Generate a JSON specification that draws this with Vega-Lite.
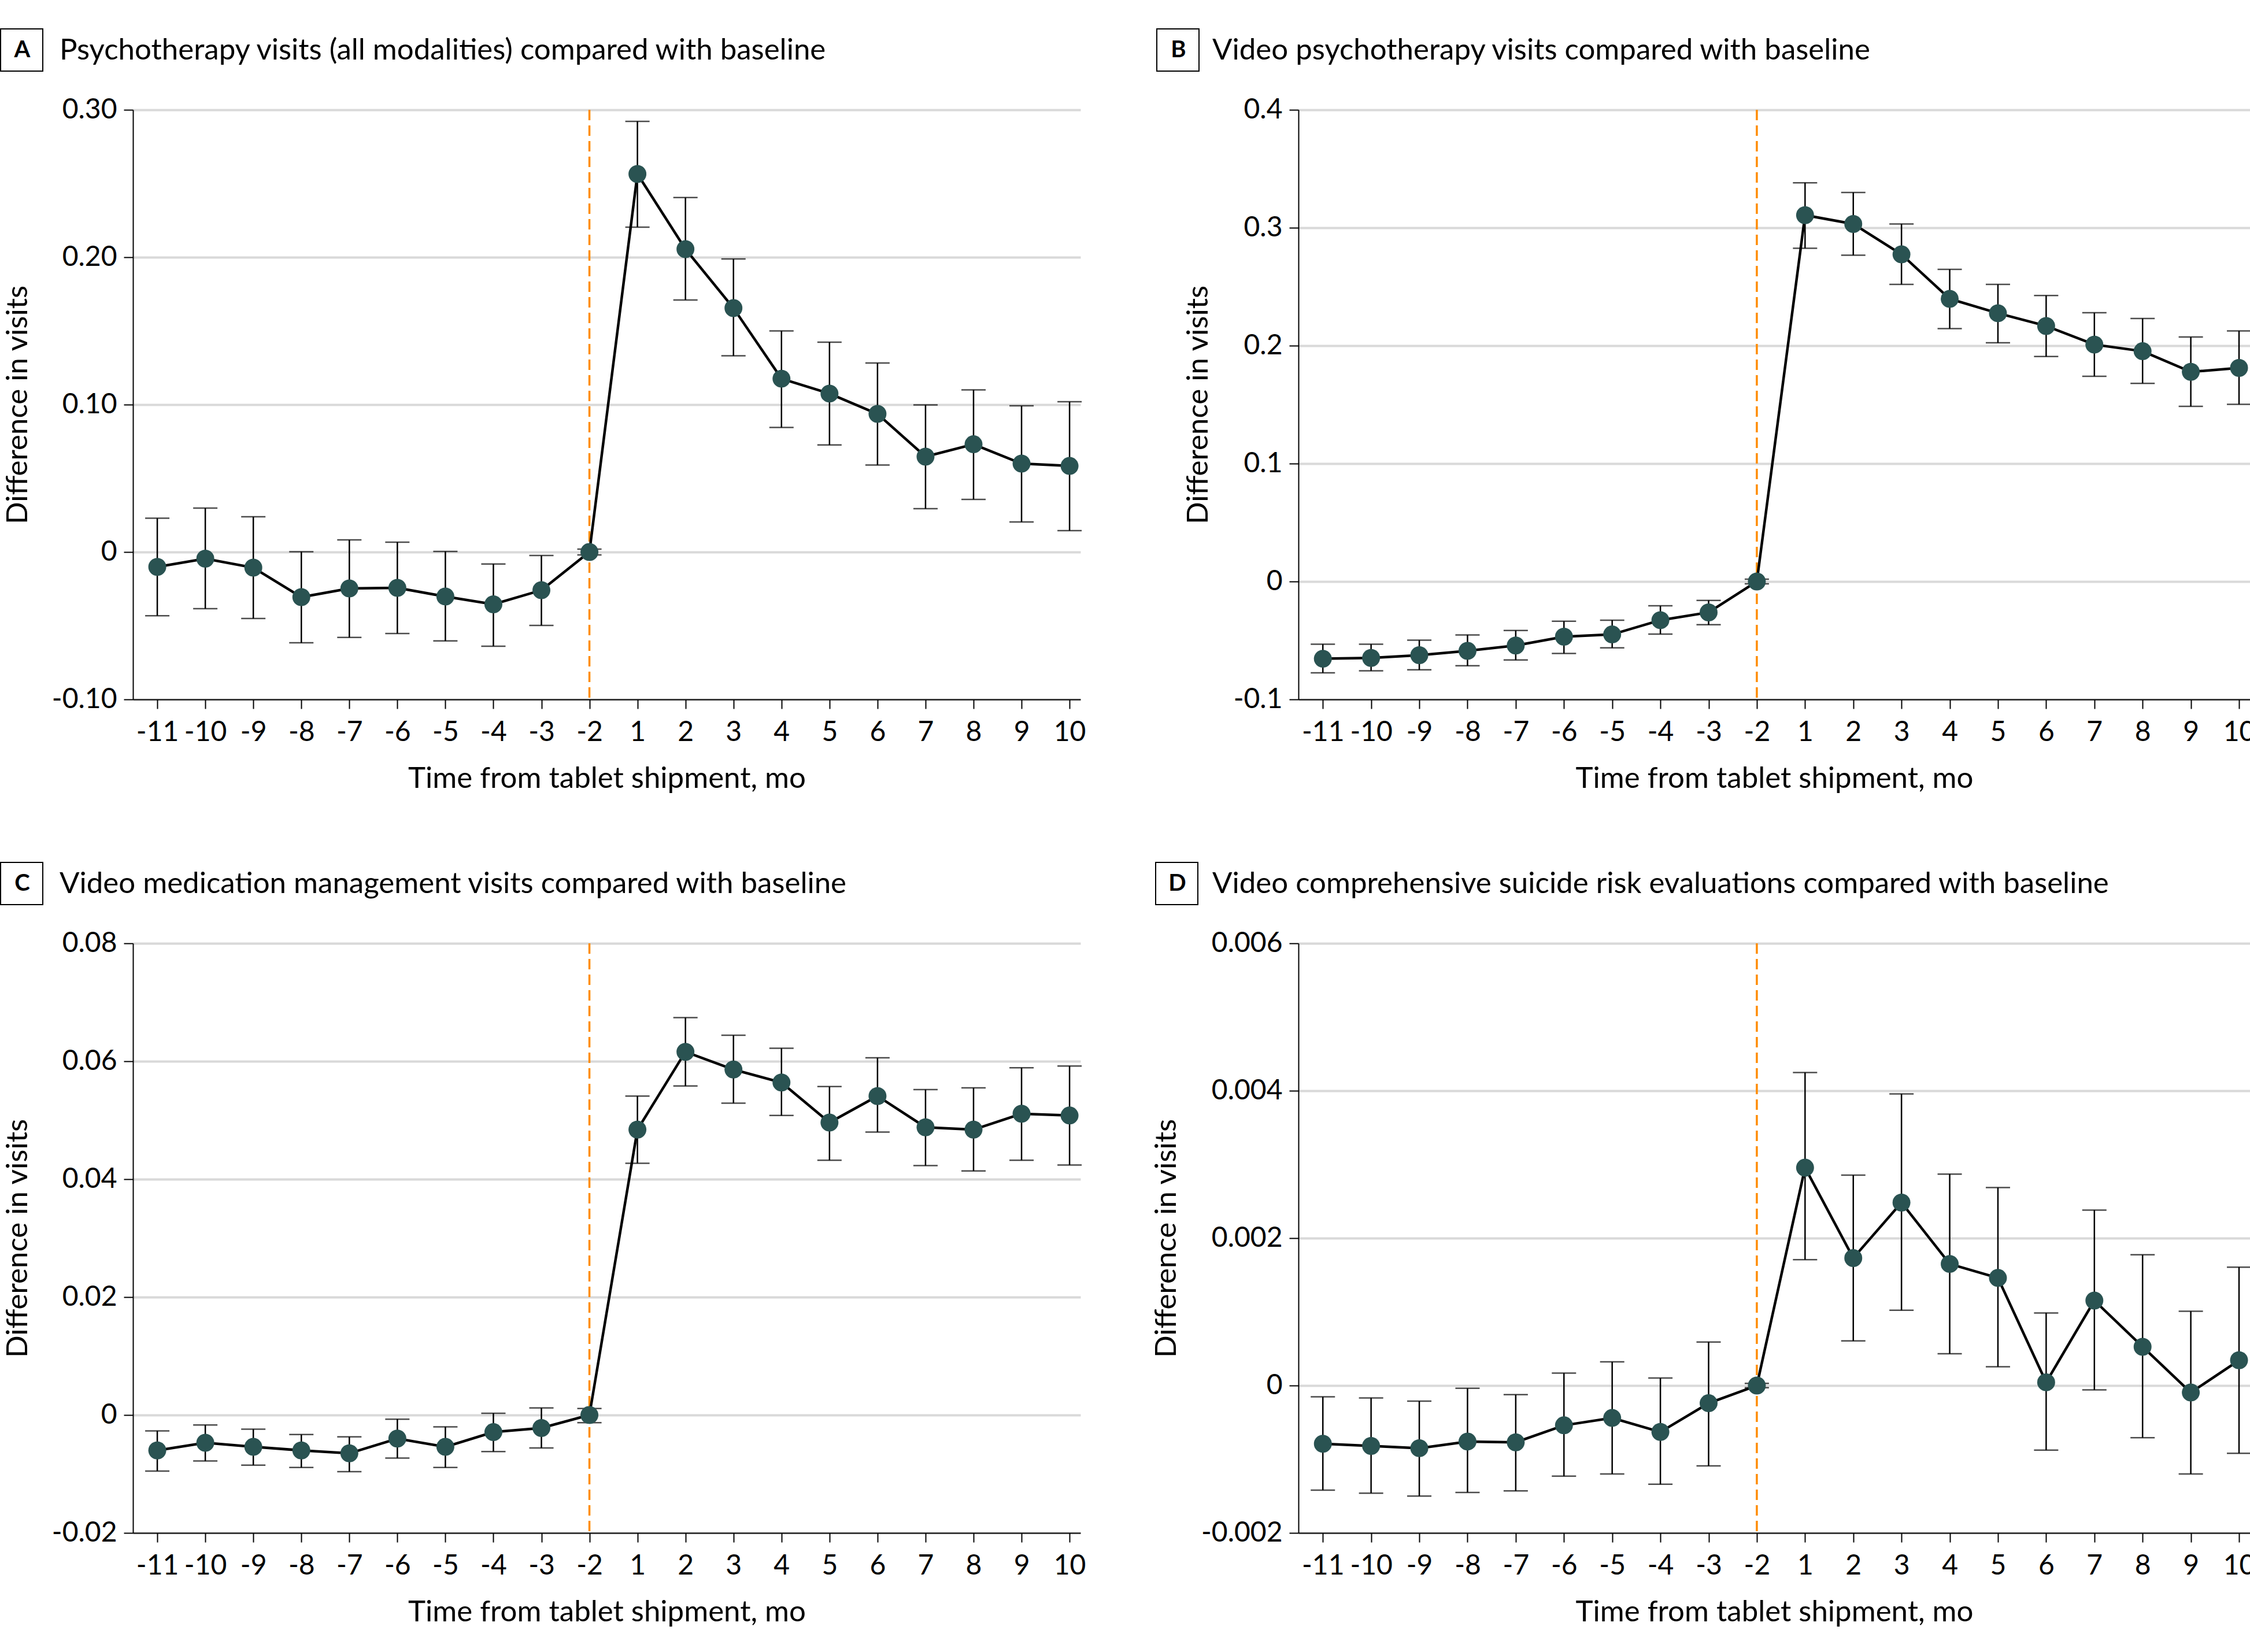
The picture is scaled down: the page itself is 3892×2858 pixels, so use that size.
{
  "$schema": "https://vega.github.io/schema/vega-lite/v6.json",
  "background": "white",
  "padding": {"left": 0, "top": 49, "right": 0, "bottom": 0},
  "config": {
    "font": "Lato",
    "view": {"stroke": null},
    "axis": {
      "domainColor": "black", "domainWidth": 2, "tickColor": "black", "tickWidth": 2, "tickSize": 16,
      "labelFont": "Lato", "labelFontSize": 48, "labelColor": "black", "labelPadding": 12,
      "titleFont": "Lato", "titleFontSize": 51, "titleFontWeight": "normal", "titleColor": "black"
    },
    "axisX": {"grid": false, "labelPadding": 17, "titlePadding": 31, "labelAngle": 0, "labelOverlap": false, "labelFlush": false},
    "axisY": {"grid": true, "gridColor": "#d9d9d9", "gridWidth": 4, "labelFlush": false, "labelOverlap": false},
    "legend": {
      "orient": "none", "padding": 0, "offset": 0,
      "titleOrient": "right", "titleAnchor": "middle", "titleBaseline": "middle", "titlePadding": 25,
      "titleFont": "Lato", "titleFontSize": 51, "titleFontWeight": "normal", "titleColor": "black", "titleLimit": 4000,
      "symbolType": "square", "symbolSize": 5329, "symbolStrokeColor": "black", "symbolStrokeWidth": 2, "symbolFillColor": "white", "symbolOpacity": 1,
      "labelFont": "Lato", "labelFontSize": 40, "labelFontWeight": "bold", "labelColor": "black", "labelAlign": "center", "labelOffset": -36.5, "labelLimit": 400
    }
  },
  "datasets": {
    "A": [
      {"t": "-11", "est": -0.0101, "lo": -0.0432, "hi": 0.0229},
      {"t": "-10", "est": -0.0045, "lo": -0.0384, "hi": 0.0298},
      {"t": "-9", "est": -0.0106, "lo": -0.0451, "hi": 0.0239},
      {"t": "-8", "est": -0.0306, "lo": -0.0616, "hi": 0.0002},
      {"t": "-7", "est": -0.0247, "lo": -0.0579, "hi": 0.0082},
      {"t": "-6", "est": -0.0243, "lo": -0.0553, "hi": 0.0067},
      {"t": "-5", "est": -0.0302, "lo": -0.0603, "hi": 0.0004},
      {"t": "-4", "est": -0.0355, "lo": -0.0639, "hi": -0.0081},
      {"t": "-3", "est": -0.0259, "lo": -0.0498, "hi": -0.0024},
      {"t": "-2", "est": 0, "lo": -0.002, "hi": 0.002},
      {"t": "1", "est": 0.2565, "lo": 0.2204, "hi": 0.2922},
      {"t": "2", "est": 0.2055, "lo": 0.171, "hi": 0.2405},
      {"t": "3", "est": 0.1655, "lo": 0.1331, "hi": 0.1988},
      {"t": "4", "est": 0.1176, "lo": 0.0845, "hi": 0.150},
      {"t": "5", "est": 0.1075, "lo": 0.0726, "hi": 0.1424},
      {"t": "6", "est": 0.0937, "lo": 0.059, "hi": 0.1282},
      {"t": "7", "est": 0.0647, "lo": 0.0294, "hi": 0.0998},
      {"t": "8", "est": 0.0731, "lo": 0.0357, "hi": 0.110},
      {"t": "9", "est": 0.060, "lo": 0.0204, "hi": 0.0992},
      {"t": "10", "est": 0.0584, "lo": 0.0145, "hi": 0.102}
    ],
    "B": [
      {"t": "-11", "est": -0.0655, "lo": -0.0774, "hi": -0.0532},
      {"t": "-10", "est": -0.0648, "lo": -0.0757, "hi": -0.0532},
      {"t": "-9", "est": -0.0625, "lo": -0.0749, "hi": -0.0498},
      {"t": "-8", "est": -0.0588, "lo": -0.0715, "hi": -0.0453},
      {"t": "-7", "est": -0.0543, "lo": -0.0666, "hi": -0.0415},
      {"t": "-6", "est": -0.0468, "lo": -0.061, "hi": -0.0337},
      {"t": "-5", "est": -0.0449, "lo": -0.0562, "hi": -0.0328},
      {"t": "-4", "est": -0.0328, "lo": -0.0446, "hi": -0.0206},
      {"t": "-3", "est": -0.0262, "lo": -0.0367, "hi": -0.016},
      {"t": "-2", "est": 0, "lo": -0.002, "hi": 0.002},
      {"t": "1", "est": 0.3107, "lo": 0.2826, "hi": 0.3381},
      {"t": "2", "est": 0.3032, "lo": 0.2767, "hi": 0.3299},
      {"t": "3", "est": 0.2774, "lo": 0.2519, "hi": 0.3032},
      {"t": "4", "est": 0.2397, "lo": 0.2145, "hi": 0.2647},
      {"t": "5", "est": 0.2275, "lo": 0.2024, "hi": 0.2519},
      {"t": "6", "est": 0.2167, "lo": 0.1908, "hi": 0.2425},
      {"t": "7", "est": 0.2009, "lo": 0.174, "hi": 0.2279},
      {"t": "8", "est": 0.1953, "lo": 0.168, "hi": 0.2231},
      {"t": "9", "est": 0.1778, "lo": 0.1485, "hi": 0.2073},
      {"t": "10", "est": 0.1811, "lo": 0.1503, "hi": 0.2125}
    ],
    "C": [
      {"t": "-11", "est": -0.0060, "lo": -0.0095, "hi": -0.0027},
      {"t": "-10", "est": -0.0047, "lo": -0.0078, "hi": -0.0017},
      {"t": "-9", "est": -0.0054, "lo": -0.0085, "hi": -0.0024},
      {"t": "-8", "est": -0.0060, "lo": -0.0089, "hi": -0.0033},
      {"t": "-7", "est": -0.0065, "lo": -0.0096, "hi": -0.0037},
      {"t": "-6", "est": -0.0040, "lo": -0.0073, "hi": -0.0007},
      {"t": "-5", "est": -0.0054, "lo": -0.0089, "hi": -0.0020},
      {"t": "-4", "est": -0.0029, "lo": -0.0062, "hi": 0.0003},
      {"t": "-3", "est": -0.0022, "lo": -0.0056, "hi": 0.0012},
      {"t": "-2", "est": 0, "lo": -0.0013, "hi": 0.0011},
      {"t": "1", "est": 0.0484, "lo": 0.0427, "hi": 0.0541},
      {"t": "2", "est": 0.0616, "lo": 0.0558, "hi": 0.0674},
      {"t": "3", "est": 0.0586, "lo": 0.0529, "hi": 0.0644},
      {"t": "4", "est": 0.0564, "lo": 0.0508, "hi": 0.0622},
      {"t": "5", "est": 0.0496, "lo": 0.0432, "hi": 0.0557},
      {"t": "6", "est": 0.0541, "lo": 0.048, "hi": 0.0606},
      {"t": "7", "est": 0.0488, "lo": 0.0423, "hi": 0.0552},
      {"t": "8", "est": 0.0484, "lo": 0.0414, "hi": 0.0555},
      {"t": "9", "est": 0.0511, "lo": 0.0432, "hi": 0.0589},
      {"t": "10", "est": 0.0508, "lo": 0.0424, "hi": 0.0592}
    ],
    "D": [
      {"t": "-11", "est": -0.00079, "lo": -0.00142, "hi": -0.000153},
      {"t": "-10", "est": -0.00082, "lo": -0.00146, "hi": -0.000168},
      {"t": "-9", "est": -0.00085, "lo": -0.0015, "hi": -0.000212},
      {"t": "-8", "est": -0.00076, "lo": -0.00145, "hi": -0.0000365},
      {"t": "-7", "est": -0.00077, "lo": -0.00143, "hi": -0.000124},
      {"t": "-6", "est": -0.00054, "lo": -0.00123, "hi": 0.000168},
      {"t": "-5", "est": -0.00044, "lo": -0.0012, "hi": 0.000321},
      {"t": "-4", "est": -0.00063, "lo": -0.00134, "hi": 0.000102},
      {"t": "-3", "est": -0.00024, "lo": -0.00109, "hi": 0.000591},
      {"t": "-2", "est": 0, "lo": -0.00003, "hi": 0.00003},
      {"t": "1", "est": 0.002956, "lo": 0.001708, "hi": 0.004248},
      {"t": "2", "est": 0.00173, "lo": 0.000606, "hi": 0.002854},
      {"t": "3", "est": 0.002482, "lo": 0.001022, "hi": 0.003956},
      {"t": "4", "est": 0.00165, "lo": 0.000431, "hi": 0.002869},
      {"t": "5", "est": 0.00146, "lo": 0.000255, "hi": 0.002686},
      {"t": "6", "est": 0.0000438, "lo": -0.000876, "hi": 0.000985},
      {"t": "7", "est": 0.001153, "lo": -0.0000584, "hi": 0.00238},
      {"t": "8", "est": 0.000526, "lo": -0.000708, "hi": 0.001774},
      {"t": "9", "est": -0.0000949, "lo": -0.0012, "hi": 0.001007},
      {"t": "10", "est": 0.000343, "lo": -0.00092, "hi": 0.001606}
    ]
  },
  "columns": 2,
  "align": "each",
  "spacing": {"row": 119, "column": 114},
  "resolve": {"scale": {"shape": "independent", "x": "independent", "y": "independent"}, "legend": {"shape": "independent"}, "axis": {"x": "independent", "y": "independent"}},
  "concat": [
    {
      "width": 1639, "height": 1020,
      "data": {"name": "A"},
      "encoding": {
        "x": {"field": "t", "type": "ordinal", "title": "Time from tablet shipment, mo",
              "scale": {"type": "point", "padding": 0.367, "align": 0.69, "domain": ["-11","-10","-9","-8","-7","-6","-5","-4","-3","-2","1","2","3","4","5","6","7","8","9","10"]}}
      },
      "layer": [
        {"data": {"values": [{}]}, "mark": {"type": "rule", "color": "#ff8c00", "strokeWidth": 3.5, "strokeDash": [18, 9]}, "encoding": {"x": {"datum": "-2", "type": "ordinal"}}},
        {"mark": {"type": "rule", "color": "black", "strokeWidth": 2.5},
         "encoding": {"y": {"field": "lo", "type": "quantitative", "title": "Difference in visits",
                            "scale": {"domain": [-0.1, 0.3], "nice": false, "zero": false},
                            "axis": {"values": [-0.1, 0, 0.1, 0.2, 0.3], "titlePadding": 32, "labelExpr": "datum.value == 0 ? '0' : (datum.value < 0 ? '-' : '') + format(abs(datum.value), '.2f')"}},
                      "y2": {"field": "hi"}}},
        {"mark": {"type": "tick", "color": "black", "thickness": 2.5, "size": 42}, "encoding": {"y": {"field": "lo", "type": "quantitative", "title": "Difference in visits"}}},
        {"mark": {"type": "tick", "color": "black", "thickness": 2.5, "size": 42}, "encoding": {"y": {"field": "hi", "type": "quantitative", "title": "Difference in visits"}}},
        {"mark": {"type": "line", "color": "black", "strokeWidth": 4.5}, "encoding": {"y": {"field": "est", "type": "quantitative", "title": "Difference in visits"}}},
        {"mark": {"type": "circle", "size": 960, "color": "#2a5352", "opacity": 1}, "encoding": {"y": {"field": "est", "type": "quantitative", "title": "Difference in visits"}}},
        {"data": {"values": [{"panel": "A"}]},
         "mark": {"type": "point", "opacity": 0, "color": "black"},
         "encoding": {
           "x": {"datum": "-2", "type": "ordinal"},
           "y": {"datum": 0, "type": "quantitative", "title": "Difference in visits"},
           "shape": {"field": "panel", "type": "nominal", "scale": {"range": ["square"]},
                     "legend": {"title": "Psychotherapy visits (all modalities) compared with baseline", "legendX": -230, "legendY": -141}}
         }}
      ]
    },
    {
      "width": 1646, "height": 1020,
      "data": {"name": "B"},
      "encoding": {
        "x": {"field": "t", "type": "ordinal", "title": "Time from tablet shipment, mo",
              "scale": {"type": "point", "padding": 0.367, "align": 0.69, "domain": ["-11","-10","-9","-8","-7","-6","-5","-4","-3","-2","1","2","3","4","5","6","7","8","9","10"]}}
      },
      "layer": [
        {"data": {"values": [{}]}, "mark": {"type": "rule", "color": "#ff8c00", "strokeWidth": 3.5, "strokeDash": [18, 9]}, "encoding": {"x": {"datum": "-2", "type": "ordinal"}}},
        {"mark": {"type": "rule", "color": "black", "strokeWidth": 2.5},
         "encoding": {"y": {"field": "lo", "type": "quantitative", "title": "Difference in visits",
                            "scale": {"domain": [-0.1, 0.4], "nice": false, "zero": false},
                            "axis": {"values": [-0.1, 0, 0.1, 0.2, 0.3, 0.4], "titlePadding": 34, "labelExpr": "datum.value == 0 ? '0' : (datum.value < 0 ? '-' : '') + format(abs(datum.value), '.1f')"}},
                      "y2": {"field": "hi"}}},
        {"mark": {"type": "tick", "color": "black", "thickness": 2.5, "size": 42}, "encoding": {"y": {"field": "lo", "type": "quantitative", "title": "Difference in visits"}}},
        {"mark": {"type": "tick", "color": "black", "thickness": 2.5, "size": 42}, "encoding": {"y": {"field": "hi", "type": "quantitative", "title": "Difference in visits"}}},
        {"mark": {"type": "line", "color": "black", "strokeWidth": 4.5}, "encoding": {"y": {"field": "est", "type": "quantitative", "title": "Difference in visits"}}},
        {"mark": {"type": "circle", "size": 960, "color": "#2a5352", "opacity": 1}, "encoding": {"y": {"field": "est", "type": "quantitative", "title": "Difference in visits"}}},
        {"data": {"values": [{"panel": "B"}]},
         "mark": {"type": "point", "opacity": 0, "color": "black"},
         "encoding": {
           "x": {"datum": "-2", "type": "ordinal"},
           "y": {"datum": 0, "type": "quantitative", "title": "Difference in visits"},
           "shape": {"field": "panel", "type": "nominal", "scale": {"range": ["square"]},
                     "legend": {"title": "Video psychotherapy visits compared with baseline", "legendX": -246, "legendY": -141, "titlePadding": 19}}
         }}
      ]
    },
    {
      "width": 1639, "height": 1020,
      "data": {"name": "C"},
      "encoding": {
        "x": {"field": "t", "type": "ordinal", "title": "Time from tablet shipment, mo",
              "scale": {"type": "point", "padding": 0.367, "align": 0.69, "domain": ["-11","-10","-9","-8","-7","-6","-5","-4","-3","-2","1","2","3","4","5","6","7","8","9","10"]}}
      },
      "layer": [
        {"data": {"values": [{}]}, "mark": {"type": "rule", "color": "#ff8c00", "strokeWidth": 3.5, "strokeDash": [18, 9]}, "encoding": {"x": {"datum": "-2", "type": "ordinal"}}},
        {"mark": {"type": "rule", "color": "black", "strokeWidth": 2.5},
         "encoding": {"y": {"field": "lo", "type": "quantitative", "title": "Difference in visits",
                            "scale": {"domain": [-0.02, 0.08], "nice": false, "zero": false},
                            "axis": {"values": [-0.02, 0, 0.02, 0.04, 0.06, 0.08], "titlePadding": 32, "labelExpr": "datum.value == 0 ? '0' : (datum.value < 0 ? '-' : '') + format(abs(datum.value), '.2f')"}},
                      "y2": {"field": "hi"}}},
        {"mark": {"type": "tick", "color": "black", "thickness": 2.5, "size": 42}, "encoding": {"y": {"field": "lo", "type": "quantitative", "title": "Difference in visits"}}},
        {"mark": {"type": "tick", "color": "black", "thickness": 2.5, "size": 42}, "encoding": {"y": {"field": "hi", "type": "quantitative", "title": "Difference in visits"}}},
        {"mark": {"type": "line", "color": "black", "strokeWidth": 4.5}, "encoding": {"y": {"field": "est", "type": "quantitative", "title": "Difference in visits"}}},
        {"mark": {"type": "circle", "size": 960, "color": "#2a5352", "opacity": 1}, "encoding": {"y": {"field": "est", "type": "quantitative", "title": "Difference in visits"}}},
        {"data": {"values": [{"panel": "C"}]},
         "mark": {"type": "point", "opacity": 0, "color": "black"},
         "encoding": {
           "x": {"datum": "-2", "type": "ordinal"},
           "y": {"datum": 0, "type": "quantitative", "title": "Difference in visits"},
           "shape": {"field": "panel", "type": "nominal", "scale": {"range": ["square"]},
                     "legend": {"title": "Video medication management visits compared with baseline", "legendX": -230, "legendY": -141}}
         }}
      ]
    },
    {
      "width": 1646, "height": 1020,
      "data": {"name": "D"},
      "encoding": {
        "x": {"field": "t", "type": "ordinal", "title": "Time from tablet shipment, mo",
              "scale": {"type": "point", "padding": 0.367, "align": 0.69, "domain": ["-11","-10","-9","-8","-7","-6","-5","-4","-3","-2","1","2","3","4","5","6","7","8","9","10"]}}
      },
      "layer": [
        {"data": {"values": [{}]}, "mark": {"type": "rule", "color": "#ff8c00", "strokeWidth": 3.5, "strokeDash": [18, 9]}, "encoding": {"x": {"datum": "-2", "type": "ordinal"}}},
        {"mark": {"type": "rule", "color": "black", "strokeWidth": 2.5},
         "encoding": {"y": {"field": "lo", "type": "quantitative", "title": "Difference in visits",
                            "scale": {"domain": [-0.002, 0.006], "nice": false, "zero": false},
                            "axis": {"values": [-0.002, 0, 0.002, 0.004, 0.006], "titlePadding": 33, "labelExpr": "datum.value == 0 ? '0' : (datum.value < 0 ? '-' : '') + format(abs(datum.value), '.3f')"}},
                      "y2": {"field": "hi"}}},
        {"mark": {"type": "tick", "color": "black", "thickness": 2.5, "size": 42}, "encoding": {"y": {"field": "lo", "type": "quantitative", "title": "Difference in visits"}}},
        {"mark": {"type": "tick", "color": "black", "thickness": 2.5, "size": 42}, "encoding": {"y": {"field": "hi", "type": "quantitative", "title": "Difference in visits"}}},
        {"mark": {"type": "line", "color": "black", "strokeWidth": 4.5}, "encoding": {"y": {"field": "est", "type": "quantitative", "title": "Difference in visits"}}},
        {"mark": {"type": "circle", "size": 960, "color": "#2a5352", "opacity": 1}, "encoding": {"y": {"field": "est", "type": "quantitative", "title": "Difference in visits"}}},
        {"data": {"values": [{"panel": "D"}]},
         "mark": {"type": "point", "opacity": 0, "color": "black"},
         "encoding": {
           "x": {"datum": "-2", "type": "ordinal"},
           "y": {"datum": 0, "type": "quantitative", "title": "Difference in visits"},
           "shape": {"field": "panel", "type": "nominal", "scale": {"range": ["square"]},
                     "legend": {"title": "Video comprehensive suicide risk evaluations compared with baseline", "legendX": -248, "legendY": -141, "titlePadding": 21}}
         }}
      ]
    }
  ]
}
